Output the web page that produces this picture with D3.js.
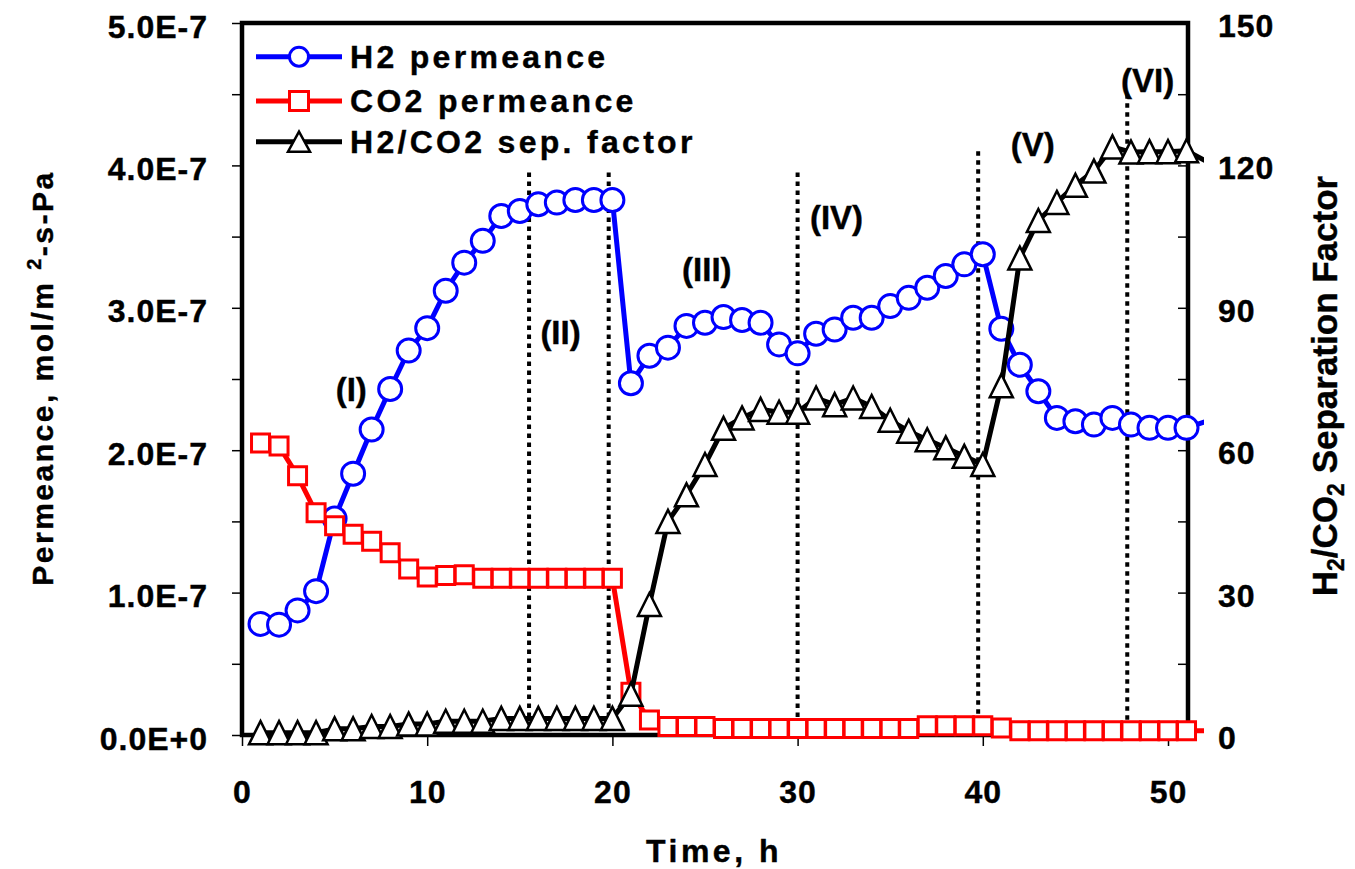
<!DOCTYPE html>
<html>
<head>
<meta charset="utf-8">
<script src="https://cdn.jsdelivr.net/npm/d3@7"></script>
<style>
  body { margin: 0; background: #fff; }
  text { font-family: "Liberation Sans", Arial, sans-serif; font-weight: bold; fill: #000; stroke: #000; stroke-width: 0.4px; }
</style>
</head>
<body>
<div class="chart"></div>
<script>
var svgWidth = 1355;
var svgHeight = 869;

var margin = { top: 23, right: 167, bottom: 134, left: 242 };
var width = svgWidth - margin.left - margin.right;
var height = svgHeight - margin.top - margin.bottom;

// time, h
var time = [1, 2, 3, 4, 5, 6, 7, 8, 9, 10, 11, 12, 13, 14, 15, 16, 17, 18, 19, 20,
  21, 22, 23, 24, 25, 26, 27, 28, 29, 30, 31, 32, 33, 34, 35, 36, 37, 38, 39, 40,
  41, 42, 43, 44, 45, 46, 47, 48, 49, 50, 51, 52];

// permeances in units of 1E-7 mol/m2-s-Pa
var h2Perm = [0.78, 0.775, 0.875, 1.01, 1.52, 1.835, 2.145, 2.43, 2.70, 2.857,
  3.12, 3.317, 3.47, 3.645, 3.68, 3.727, 3.739, 3.757, 3.757, 3.757,
  2.47, 2.663, 2.72, 2.873, 2.895, 2.935, 2.914, 2.895, 2.743, 2.68,
  2.818, 2.848, 2.93, 2.93, 3.012, 3.07, 3.141, 3.223, 3.305, 3.376,
  2.853, 2.60, 2.414, 2.227, 2.203, 2.18, 2.227, 2.18, 2.157, 2.157, 2.157, 2.20];

var co2Perm = [2.05, 2.03, 1.82, 1.56, 1.47, 1.41, 1.36, 1.28, 1.165, 1.11,
  1.12, 1.125, 1.10, 1.10, 1.10, 1.10, 1.10, 1.10, 1.10, 1.10,
  0.30, 0.105, 0.06, 0.06, 0.06, 0.045, 0.045, 0.045, 0.045, 0.045,
  0.045, 0.045, 0.045, 0.045, 0.045, 0.045, 0.065, 0.065, 0.065, 0.065,
  0.05, 0.03, 0.03, 0.03, 0.03, 0.03, 0.03, 0.03, 0.03, 0.03, 0.03, 0.03];

var sepFactor = [0.5, 0.5, 0.5, 0.5, 1.3, 1.3, 1.8, 1.8, 2.3, 2.3,
  2.9, 2.9, 2.9, 3.5, 3.5, 3.5, 3.5, 3.5, 3.5, 3.5,
  8.6, 27.5, 45, 50.6, 57, 64.6, 66.8, 68.6, 68, 68,
  71, 69.6, 71, 69.2, 66.3, 64, 62.2, 60.5, 58.7, 57,
  73.6, 100.5, 108.4, 112.2, 115.8, 118.8, 123.9, 122.8, 122.9, 122.9, 123.1, 121];

var xTicks = [0, 10, 20, 30, 40, 50];
var leftTicks = [0, 0.5, 1, 1.5, 2, 2.5, 3, 3.5, 4, 4.5, 5];
var rightTicks = [0, 15, 30, 45, 60, 75, 90, 105, 120, 135, 150];

// stage boundaries (time) and how high the dotted line goes (1E-7 units)
var dividerTime = [15.5, 19.8, 30, 39.75, 47.8];
var dividerTop = [3.95, 3.95, 3.95, 4.1, 4.5];

var stageNames = ["(I)", "(II)", "(III)", "(IV)", "(V)", "(VI)"];
var stageTime = [5.9, 17.2, 25.1, 32.1, 42.7, 48.9];
var stageLevel = [2.43, 2.83, 3.27, 3.64, 4.15, 4.60];

var seriesNames = ["H2 permeance", "CO2 permeance", "H2/CO2 sep. factor"];

var svg = d3.select(".chart")
  .append("svg")
  .attr("width", svgWidth)
  .attr("height", svgHeight);

var chartGroup = svg.append("g")
  .attr("transform", `translate(${margin.left}, ${margin.top})`);

// scales
var xScale = d3.scaleLinear().domain([0, 51.08]).range([0, width]);
var yLeft = d3.scaleLinear().domain([0, 5]).range([height, 0]);
var yRight = d3.scaleLinear().domain([0, 150]).range([height, 0]);

var rows = time.map(function(t, i) {
  return { t: t, h2: h2Perm[i], co2: co2Perm[i], sf: sepFactor[i] };
});
var shown = rows.filter(d => d.t <= 51.08);

// axes
var fmtE = d => (d3.format(".1e")(d * 1e-7)).toUpperCase();

var leftAxis = d3.axisLeft(yLeft)
  .tickValues(leftTicks)
  .tickSize(10).tickSizeOuter(0).tickPadding(24)
  .tickFormat(d => d % 1 === 0 ? fmtE(d) : "");
var rightAxis = d3.axisRight(yRight)
  .tickValues(rightTicks)
  .tickSizeInner(-10).tickSizeOuter(0).tickPadding(30)
  .tickFormat(d => d % 30 === 0 ? d : "");
var bottomAxis = d3.axisBottom(xScale)
  .tickValues(xTicks)
  .tickSize(11).tickSizeOuter(0).tickPadding(34);

function styleAxis(g) {
  g.select(".domain").remove();
  g.selectAll(".tick line").attr("stroke", "#000").attr("stroke-width", 1.5);
  g.selectAll(".tick text")
    .attr("font-size", 32)
    .style("letter-spacing", "1px")
    .attr("fill", "#000");
}

chartGroup.append("g").call(leftAxis).call(styleAxis)
  .selectAll(".tick text").attr("dy", "0.44em");
chartGroup.append("g").attr("transform", `translate(${width},0)`)
  .call(rightAxis).call(styleAxis)
  .selectAll(".tick text").attr("dy", "0.42em");
chartGroup.append("g").attr("transform", `translate(0,${height})`)
  .call(bottomAxis).call(styleAxis);

// plot frame
chartGroup.append("rect")
  .attr("x", 0).attr("y", 0)
  .attr("width", width).attr("height", height)
  .attr("fill", "none")
  .attr("stroke", "#000")
  .attr("stroke-width", 4.5);

// dotted stage boundaries
chartGroup.selectAll(".divider")
  .data(dividerTime)
  .enter()
  .append("line")
  .attr("class", "divider")
  .attr("x1", d => xScale(d))
  .attr("x2", d => xScale(d))
  .attr("y1", (d, i) => yLeft(dividerTop[i]))
  .attr("y2", height - 4)
  .attr("stroke", "#000")
  .attr("stroke-width", 4)
  .attr("stroke-dasharray", "4.5,4.5");

chartGroup.selectAll(".stage")
  .data(stageNames)
  .enter()
  .append("text")
  .attr("class", "stage")
  .attr("x", (d, i) => xScale(stageTime[i]))
  .attr("y", (d, i) => yLeft(stageLevel[i]))
  .attr("dy", "0.36em")
  .attr("text-anchor", "middle")
  .attr("font-size", 33)
  .text(d => d);

// clip so the last segment is cut just past the right axis
svg.append("defs").append("clipPath").attr("id", "plotClip")
  .append("rect")
  .attr("x", -20).attr("y", -30)
  .attr("width", xScale(51.95) + 20)
  .attr("height", height + 60);

var circlePath = r => `M${-r},0a${r},${r} 0 1,0 ${2 * r},0a${r},${r} 0 1,0 ${-2 * r},0Z`;
var squarePath = s => `M${-s / 2},${-s / 2}h${s}v${s}h${-s}Z`;
var trianglePath = (w, h) => `M0,${-h / 2}L${w / 2},${h / 2}L${-w / 2},${h / 2}Z`;

var series = [
  { key: "h2", color: "#0000FF", y: d => yLeft(d.h2), marker: circlePath(11.5), mw: 3, legendMarker: circlePath(9.5) },
  { key: "co2", color: "#FF0000", y: d => yLeft(d.co2), marker: squarePath(18), mw: 3, legendMarker: squarePath(19) },
  { key: "sf", color: "#000000", y: d => yRight(d.sf), marker: trianglePath(23, 23), mw: 2.5, legendMarker: trianglePath(22, 20) }
];

series.forEach(function(s) {
  var line = d3.line().x(d => xScale(d.t)).y(s.y);
  chartGroup.append("path")
    .datum(rows)
    .attr("clip-path", "url(#plotClip)")
    .attr("d", line)
    .attr("fill", "none")
    .attr("stroke", s.color)
    .attr("stroke-width", 5)
    .attr("stroke-linejoin", "round");

  chartGroup.selectAll(".m-" + s.key)
    .data(shown)
    .enter()
    .append("path")
    .attr("class", "m-" + s.key)
    .attr("transform", d => `translate(${xScale(d.t)},${s.y(d)})`)
    .attr("d", s.marker)
    .attr("fill", "#fff")
    .attr("stroke", s.color)
    .attr("stroke-width", s.mw);
});

// legend
var legend = svg.append("g");
var legendRows = [56.7, 101, 141.7];
series.forEach(function(s, i) {
  var row = legend.append("g").attr("transform", `translate(0,${legendRows[i]})`);
  row.append("line")
    .attr("x1", 256).attr("x2", 342)
    .attr("stroke", s.color).attr("stroke-width", 5);
  row.append("path")
    .attr("transform", "translate(299,0)")
    .attr("d", s.legendMarker)
    .attr("fill", "#fff")
    .attr("stroke", s.color)
    .attr("stroke-width", s.mw);
  row.append("text")
    .attr("x", 350).attr("y", 11)
    .attr("font-size", 32)
    .style("letter-spacing", "3.3px")
    .text(seriesNames[i]);
});

// axis titles
var leftTitle = svg.append("text")
  .attr("transform", "translate(53,378) rotate(-90)")
  .attr("text-anchor", "middle")
  .attr("font-size", 30)
  .style("letter-spacing", "2.5px");
leftTitle.append("tspan").text("Permeance, mol/m ");
leftTitle.append("tspan").attr("font-size", 20).attr("dy", -12).text("2");
leftTitle.append("tspan").attr("dy", 12).text("-s-Pa");

var rightTitle = svg.append("text")
  .attr("transform", "translate(1337,386) rotate(-90)")
  .attr("text-anchor", "middle")
  .attr("font-size", 35);
rightTitle.append("tspan").text("H");
rightTitle.append("tspan").attr("font-size", 23).attr("dy", 7).text("2");
rightTitle.append("tspan").attr("dy", -7).text("/CO");
rightTitle.append("tspan").attr("font-size", 23).attr("dy", 7).text("2");
rightTitle.append("tspan").attr("dy", -7).text(" Separation Factor");

svg.append("text")
  .attr("x", 714).attr("y", 862)
  .attr("text-anchor", "middle")
  .attr("font-size", 32)
  .style("letter-spacing", "3.5px")
  .text("Time, h");
</script>
</body>
</html>
